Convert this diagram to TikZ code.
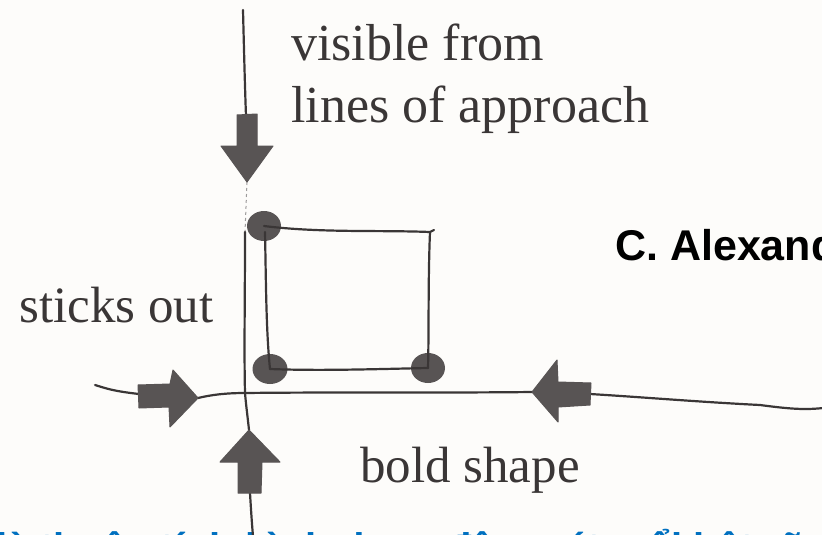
\documentclass[tikz,border=0pt]{standalone}
\usepackage{fontspec}
\newfontfamily\lsans{Liberation Sans}
\newfontfamily\handfont{Liberation Serif}
\usetikzlibrary{shapes.geometric}
\definecolor{ink}{RGB}{58,54,54}
\definecolor{arrowfill}{RGB}{88,84,84}
\definecolor{paper}{RGB}{253,252,250}
\definecolor{capblue}{RGB}{0,112,192}
\begin{document}
\begin{tikzpicture}[x=1pt,y=-1pt,
 inkline/.style={draw=ink,line width=2.2pt,line cap=round,line join=round},
 blockarrow/.style={fill=arrowfill,draw=arrowfill,line width=1pt,line join=round},
 cornerdot/.style={ellipse,fill=arrowfill,draw=none,inner sep=0pt,minimum width=34pt,minimum height=30pt},
 handtext/.style={anchor=base west,inner sep=0pt,text=ink,font=\handfont\fontsize{52pt}{60pt}\selectfont},
]
\useasboundingbox (0,0) rectangle (822,535);
\clip (0,0) rectangle (822,535);
\fill[paper] (0,0) rectangle (822,535);

% texts
\node[handtext] (vis) at (291,60) {visible from};
\node[handtext] (lines) at (291,122) {lines of approach};
\node[handtext,font=\handfont\fontsize{51pt}{60pt}\selectfont] (sticks) at (19,322) {sticks out};
\node[handtext,font=\handfont\fontsize{51pt}{60pt}\selectfont] (bold) at (360,482) {bold shape};
\node[anchor=base west,inner sep=0pt,text=black,font=\lsans\bfseries\fontsize{43pt}{50pt}\selectfont] (alex) at (615,260) {C. Alexander};
\node[anchor=base west,inner sep=0pt,text=capblue,font=\lsans\bfseries\fontsize{40pt}{44pt}\selectfont] (vn) at (-4,561) {là thuộc tính hình dạng đậm nét, nổi bật rõ ràng};

% named points
\coordinate (vtop) at (243,10);
\coordinate (dAtail) at (246,116);
\coordinate (dAtip) at (247,182);
\coordinate (boxL) at (245,232);
\coordinate (cross) at (245,393);
\coordinate (uAtip) at (249,430);
\coordinate (uAtail) at (250,493);
\coordinate (vbot) at (253,536);
\coordinate (hleft) at (95,385);
\coordinate (rAtail) at (139,394);
\coordinate (rAtip) at (198,398);
\coordinate (lAtip) at (532,392);
\coordinate (lAtail) at (590,394);
\coordinate (hright) at (823,408);

% corner dots
\node[cornerdot] (tl) at (264,226) {};
\node[cornerdot,minimum width=35pt] (bl) at (270,369) {};
\node[cornerdot] (br) at (428,368) {};
\coordinate (tr) at (430,232);

% vertical line
\draw[inkline] (vtop) .. controls (244,50) and (245,90) .. (dAtail);
\draw[ink!50,line width=1pt,dashed] (dAtip) -- (boxL);
\draw[inkline] (boxL) .. controls (245,300) and (244,350) .. (cross)
  .. controls (246,405) and (248,420) .. (uAtip);
\draw[inkline] (uAtail) .. controls (251,510) and (252,525) .. (vbot);

% horizontal line
\draw[inkline] (hleft) .. controls (105,388) and (112,391) .. (rAtail);
\draw[inkline] (rAtip) .. controls (215,394) and (230,393) .. (cross)
  .. controls (330,392) and (450,393) .. (lAtip);
\draw[inkline] (lAtail) .. controls (640,397) and (700,402) .. (760,405)
  .. controls (790,409) and (805,410) .. (hright);

% box
\draw[inkline] (tl.center) .. controls (320,233) and (380,230) .. (tr) -- ++(4,-2);
\draw[inkline] (tr) .. controls (428,280) and (429,330) .. (br.center);
\draw[inkline] (tl.center) ++(1,6) .. controls (266,280) and (266,330) .. (bl.center);
\draw[inkline] (bl.center) .. controls (320,371) and (380,369) .. (br.center);

% block arrows
\filldraw[blockarrow] (237,115) -- (257,114) -- (257,146) -- (273,146) -- (dAtip)
  -- (221,146) -- (237,146) -- cycle;
\filldraw[blockarrow] (138,385) -- (170,384) -- (173,370) -- (rAtip) -- (170,427)
  -- (169,407) -- (139,408) -- cycle;
\filldraw[blockarrow] (lAtip) -- (557,360) -- (558,382) -- (591,383) -- (590,405)
  -- (558,407) -- (558,422) -- cycle;
\filldraw[blockarrow] (uAtip) -- (280,462) -- (262,462) -- (261,493) -- (238,493)
  -- (238,462) -- (220,462) -- cycle;
\end{tikzpicture}
\end{document}
